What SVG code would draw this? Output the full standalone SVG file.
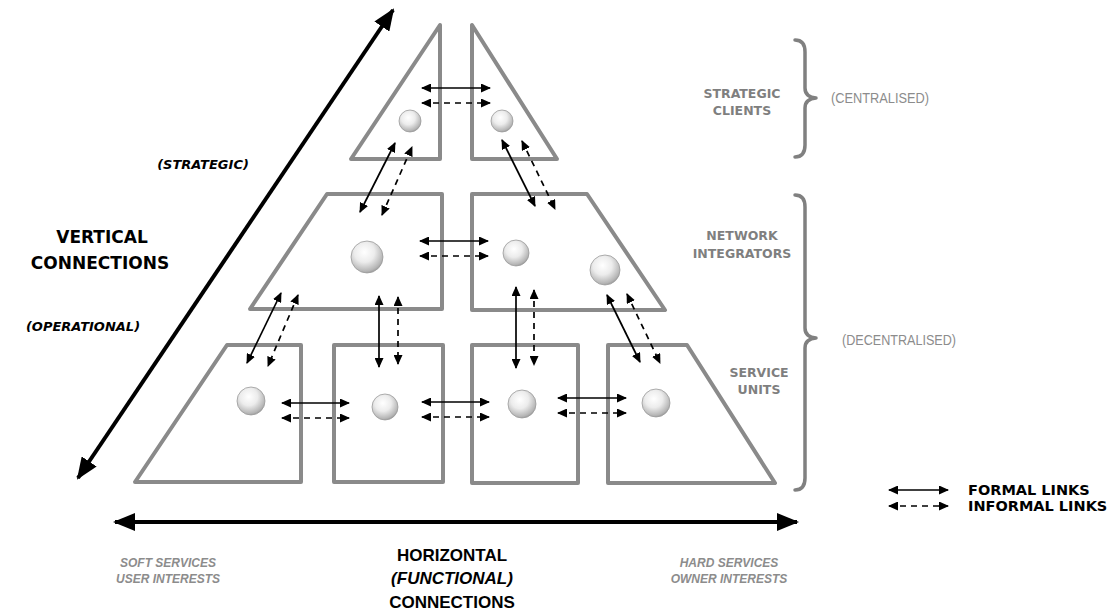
<svg xmlns="http://www.w3.org/2000/svg" width="1111" height="615" viewBox="0 0 1111 615">
  <style>
    .unit { fill: #ffffff; stroke: #8a8a8a; stroke-width: 4; stroke-linejoin: round; }
    .ball { fill: url(#ballShade); stroke: #9a9a9a; stroke-width: 0.8; }
    .formal { stroke: #000; stroke-width: 1.7; fill: none; marker-start: url(#tip); marker-end: url(#tip); }
    .informal { stroke: #000; stroke-width: 1.7; fill: none; stroke-dasharray: 6 5; marker-start: url(#tip); marker-end: url(#tip); }
    .axis { stroke: #000; stroke-width: 4; fill: none; marker-start: url(#bigTip); marker-end: url(#bigTip); }
    .brace { fill: none; stroke: #808080; stroke-width: 3.5; stroke-linecap: round; stroke-linejoin: round; }
    .tier { font-family: "DejaVu Sans", Verdana, sans-serif; font-weight: bold; font-size: 12.5px; fill: #7f7f7f; text-anchor: middle; }
    .scope { font-family: "Liberation Sans", Arial, sans-serif; font-size: 14px; fill: #8c8c8c; text-anchor: middle; }
    .axisTitle { font-family: "DejaVu Sans", Verdana, sans-serif; font-weight: bold; font-size: 17px; fill: #000; text-anchor: middle; }
    .axisNote { font-family: "DejaVu Sans", Verdana, sans-serif; font-weight: bold; font-style: italic; font-size: 13px; fill: #000; text-anchor: middle; }
    .hTitle { font-family: "Liberation Sans", Arial, sans-serif; font-weight: bold; font-size: 17px; fill: #000; text-anchor: middle; }
    .hNote { font-family: "Liberation Sans", Arial, sans-serif; font-weight: bold; font-style: italic; font-size: 12px; fill: #8c8c8c; text-anchor: middle; }
    .legend { font-family: "DejaVu Sans", Verdana, sans-serif; font-weight: bold; font-size: 14.5px; fill: #000; }
  </style>
  <defs>
    <radialGradient id="ballShade" cx="0.42" cy="0.35" r="0.7">
      <stop offset="0" stop-color="#ffffff"/>
      <stop offset="0.45" stop-color="#ececec"/>
      <stop offset="0.85" stop-color="#b5b5b5"/>
      <stop offset="1" stop-color="#8f8f8f"/>
    </radialGradient>
    <marker id="tip" markerUnits="userSpaceOnUse" markerWidth="10" markerHeight="9" refX="9" refY="4.5" orient="auto-start-reverse">
      <path d="M0,0 L10,4.5 L0,9 Z" fill="#000"/>
    </marker>
    <marker id="bigTip" markerUnits="userSpaceOnUse" markerWidth="22" markerHeight="18" refX="20" refY="9" orient="auto-start-reverse">
      <path d="M0,0 L22,9 L0,18 Z" fill="#000"/>
    </marker>
  </defs>

  <rect width="1111" height="615" fill="#ffffff"/>

  <!-- strategic clients -->
  <g id="client-left">
    <polygon class="unit" points="440,25 440,159 351,159"/>
    <circle class="ball" cx="410" cy="121" r="11"/>
  </g>
  <g id="client-right">
    <polygon class="unit" points="472,25 472,159 557,159"/>
    <circle class="ball" cx="502" cy="121" r="11"/>
  </g>

  <!-- network integrators -->
  <g id="integrator-left">
    <polygon class="unit" points="327,194 442,194 442,309 250,309"/>
    <circle class="ball" cx="367" cy="257" r="16"/>
  </g>
  <g id="integrator-right">
    <polygon class="unit" points="472,194 587,194 665,310 472,310"/>
    <circle class="ball" cx="516" cy="253" r="13"/>
    <circle class="ball" cx="605" cy="270" r="15"/>
  </g>

  <!-- service units -->
  <g id="unit-1">
    <polygon class="unit" points="227,345 301,345 301,482 135,482"/>
    <circle class="ball" cx="251" cy="401" r="14"/>
  </g>
  <g id="unit-2">
    <polygon class="unit" points="334,345 443,345 443,482 334,482"/>
    <circle class="ball" cx="385" cy="407" r="13"/>
  </g>
  <g id="unit-3">
    <polygon class="unit" points="472,345 578,345 578,483 472,483"/>
    <circle class="ball" cx="522" cy="404" r="14"/>
  </g>
  <g id="unit-4">
    <polygon class="unit" points="608,345 687,345 775,483 608,483"/>
    <circle class="ball" cx="656" cy="403" r="14"/>
  </g>

  <!-- links between units -->
  <g id="connectors">
    <line class="formal" x1="422" y1="88" x2="490" y2="88"/>
    <line class="informal" x1="422" y1="103" x2="490" y2="103"/>

    <line class="formal" x1="360" y1="212" x2="395" y2="143"/>
    <line class="informal" x1="382" y1="215" x2="412" y2="147"/>
    <line class="formal" x1="502" y1="140" x2="535" y2="206"/>
    <line class="informal" x1="522" y1="141" x2="555" y2="209"/>

    <line class="formal" x1="420" y1="241" x2="488" y2="241"/>
    <line class="informal" x1="420" y1="256" x2="488" y2="256"/>

    <line class="formal" x1="281" y1="293" x2="247" y2="363"/>
    <line class="informal" x1="298" y1="295" x2="268" y2="366"/>
    <line class="formal" x1="379" y1="296" x2="379" y2="367"/>
    <line class="informal" x1="398" y1="297" x2="398" y2="364"/>
    <line class="formal" x1="516" y1="287" x2="516" y2="368"/>
    <line class="informal" x1="534" y1="290" x2="534" y2="365"/>
    <line class="formal" x1="607" y1="295" x2="640" y2="362"/>
    <line class="informal" x1="627" y1="294" x2="660" y2="363"/>

    <line class="formal" x1="282" y1="403" x2="349" y2="403"/>
    <line class="informal" x1="282" y1="418" x2="349" y2="418"/>
    <line class="formal" x1="422" y1="402" x2="489" y2="402"/>
    <line class="informal" x1="422" y1="417" x2="489" y2="417"/>
    <line class="formal" x1="558" y1="398" x2="626" y2="398"/>
    <line class="informal" x1="558" y1="413" x2="626" y2="413"/>
  </g>

  <!-- axes -->
  <g id="axes">
    <line class="axis" x1="78" y1="478" x2="393" y2="10"/>
    <line class="axis" x1="115" y1="522" x2="797" y2="522"/>
  </g>

  <!-- vertical axis labels -->
  <text class="axisNote" x="203" y="169">(STRATEGIC)</text>
  <text class="axisTitle" x="102" y="243">VERTICAL</text>
  <text class="axisTitle" x="100" y="269">CONNECTIONS</text>
  <text class="axisNote" x="83" y="331">(OPERATIONAL)</text>

  <!-- horizontal axis labels -->
  <text class="hNote" x="168" y="567">SOFT SERVICES</text>
  <text class="hNote" x="168" y="583">USER INTERESTS</text>
  <text class="hTitle" x="452" y="561">HORIZONTAL</text>
  <text class="hTitle" x="452" y="584" font-style="italic" font-size="14">(FUNCTIONAL)</text>
  <text class="hTitle" x="452" y="608">CONNECTIONS</text>
  <text class="hNote" x="729" y="567">HARD SERVICES</text>
  <text class="hNote" x="729" y="583">OWNER INTERESTS</text>

  <!-- tier labels and braces -->
  <g id="tiers">
    <text class="tier" x="742" y="98">STRATEGIC</text>
    <text class="tier" x="742" y="115">CLIENTS</text>
    <path class="brace" d="M795,40 Q805,40 805,52 L805,88 Q805,97 816,98 Q805,99 805,108 L805,145 Q805,157 795,157"/>
    <text class="scope" x="880" y="103" textLength="98" lengthAdjust="spacingAndGlyphs">(CENTRALISED)</text>

    <text class="tier" x="742" y="240">NETWORK</text>
    <text class="tier" x="742" y="258">INTEGRATORS</text>
    <text class="tier" x="759" y="377">SERVICE</text>
    <text class="tier" x="759" y="394">UNITS</text>
    <path class="brace" d="M795,195 Q805,195 805,207 L805,328 Q805,337 816,338 Q805,339 805,348 L805,478 Q805,490 795,490"/>
    <text class="scope" x="899" y="345" textLength="114" lengthAdjust="spacingAndGlyphs">(DECENTRALISED)</text>
  </g>

  <!-- legend -->
  <g id="legend">
    <line class="formal" x1="889" y1="490" x2="948" y2="490"/>
    <line class="informal" x1="889" y1="506" x2="948" y2="506"/>
    <text class="legend" x="968" y="495">FORMAL LINKS</text>
    <text class="legend" x="968" y="511">INFORMAL LINKS</text>
  </g>
</svg>
